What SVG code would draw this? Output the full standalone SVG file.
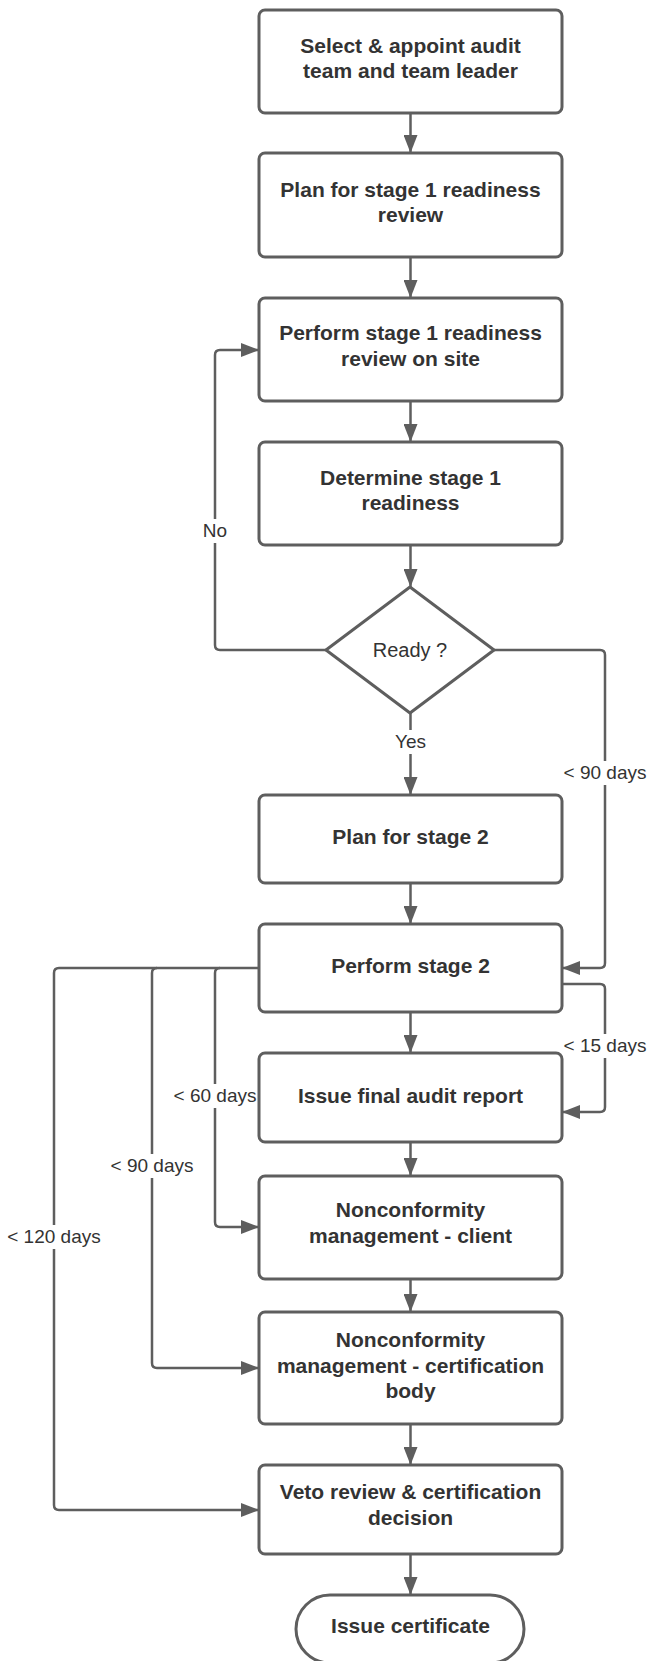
<svg xmlns="http://www.w3.org/2000/svg" width="649" height="1661" viewBox="0 0 649 1661">
<style>
.box{fill:#ffffff;stroke:#5e5e5e;stroke-width:3}
.t{font-family:"Liberation Sans",Arial,sans-serif;font-weight:bold;font-size:21px;fill:#333333;text-anchor:middle}
.lbl{font-family:"Liberation Sans",Arial,sans-serif;font-size:19px;fill:#333333;text-anchor:middle}
.c{fill:none;stroke:#5e5e5e;stroke-width:2.5}
.bg{fill:#ffffff}
</style>
<defs>
<marker id="arr" markerUnits="userSpaceOnUse" markerWidth="18" markerHeight="14" viewBox="0 0 18 14" refX="18" refY="7" orient="auto">
<path d="M0,0 L18,7 L0,14 Z" fill="#5e5e5e"/>
</marker>
</defs>
<rect width="649" height="1661" fill="#ffffff"/>
<g id="connectors">
<path class="c" d="M410.5,113 V153" marker-end="url(#arr)"/>
<path class="c" d="M410.5,257 V298" marker-end="url(#arr)"/>
<path class="c" d="M410.5,401 V442" marker-end="url(#arr)"/>
<path class="c" d="M410.5,545 V587" marker-end="url(#arr)"/>
<path class="c" d="M410.5,713 V795" marker-end="url(#arr)"/>
<path class="c" d="M410.5,883 V924" marker-end="url(#arr)"/>
<path class="c" d="M410.5,1012 V1053" marker-end="url(#arr)"/>
<path class="c" d="M410.5,1142 V1176" marker-end="url(#arr)"/>
<path class="c" d="M410.5,1279 V1312" marker-end="url(#arr)"/>
<path class="c" d="M410.5,1424 V1465" marker-end="url(#arr)"/>
<path class="c" d="M410.5,1554 V1595" marker-end="url(#arr)"/>
<path class="c" d="M326,650 H220 Q215,650 215,645 V355 Q215,350 220,350 H259" marker-end="url(#arr)"/>
<path class="c" d="M494,650 H600 Q605,650 605,655 V963 Q605,968 600,968 H562" marker-end="url(#arr)"/>
<path class="c" d="M562,984 H600 Q605,984 605,989 V1107 Q605,1112 600,1112 H562" marker-end="url(#arr)"/>
<path class="c" d="M259,968 H59 Q54,968 54,973 V1505 Q54,1510 59,1510 H259" marker-end="url(#arr)"/>
<path class="c" d="M220,968 Q215,968 215,973 V1222 Q215,1227 220,1227 H259" marker-end="url(#arr)"/>
<path class="c" d="M157,968 Q152,968 152,973 V1363 Q152,1368 157,1368 H259" marker-end="url(#arr)"/>
<rect class="bg" x="200" y="519" width="30" height="24"/>
<text class="lbl" x="215" y="537">No</text>
<rect class="bg" x="393" y="730" width="35" height="24"/>
<text class="lbl" x="410.5" y="748">Yes</text>
<rect class="bg" x="562" y="761" width="86" height="24"/>
<text class="lbl" x="605" y="779">&lt; 90 days</text>
<rect class="bg" x="562" y="1034" width="86" height="24"/>
<text class="lbl" x="605" y="1052">&lt; 15 days</text>
<rect class="bg" x="172" y="1084" width="86" height="24"/>
<text class="lbl" x="215" y="1102">&lt; 60 days</text>
<rect class="bg" x="109" y="1154" width="86" height="24"/>
<text class="lbl" x="152" y="1172">&lt; 90 days</text>
<rect class="bg" x="6" y="1225" width="96" height="24"/>
<text class="lbl" x="54" y="1243">&lt; 120 days</text>
</g>
<g id="n1"><rect class="box" x="259" y="10" width="303" height="103" rx="6"/>
<text class="t" x="410.5" y="53">Select &amp; appoint audit</text><text class="t" x="410.5" y="78">team and team leader</text></g>
<g id="n2"><rect class="box" x="259" y="153" width="303" height="104" rx="6"/>
<text class="t" x="410.5" y="197">Plan for stage 1 readiness</text><text class="t" x="410.5" y="222">review</text></g>
<g id="n3"><rect class="box" x="259" y="298" width="303" height="103" rx="6"/>
<text class="t" x="410.5" y="340">Perform stage 1 readiness</text><text class="t" x="410.5" y="366">review on site</text></g>
<g id="n4"><rect class="box" x="259" y="442" width="303" height="103" rx="6"/>
<text class="t" x="410.5" y="485">Determine stage 1</text><text class="t" x="410.5" y="510">readiness</text></g>
<g id="d1"><path class="box" d="M410,587 L494,650 L410,713 L326,650 Z" stroke-linejoin="round"/>
<text class="lbl" x="410" y="657" style="font-size:20px">Ready ?</text></g>
<g id="n5"><rect class="box" x="259" y="795" width="303" height="88" rx="6"/>
<text class="t" x="410.5" y="844">Plan for stage 2</text></g>
<g id="n6"><rect class="box" x="259" y="924" width="303" height="88" rx="6"/>
<text class="t" x="410.5" y="973">Perform stage 2</text></g>
<g id="n7"><rect class="box" x="259" y="1053" width="303" height="89" rx="6"/>
<text class="t" x="410.5" y="1103">Issue final audit report</text></g>
<g id="n8"><rect class="box" x="259" y="1176" width="303" height="103" rx="6"/>
<text class="t" x="410.5" y="1217">Nonconformity</text><text class="t" x="410.5" y="1243">management - client</text></g>
<g id="n9"><rect class="box" x="259" y="1312" width="303" height="112" rx="6"/>
<text class="t" x="410.5" y="1347">Nonconformity</text><text class="t" x="410.5" y="1373">management - certification</text><text class="t" x="410.5" y="1398">body</text></g>
<g id="n10"><rect class="box" x="259" y="1465" width="303" height="89" rx="6"/>
<text class="t" x="410.5" y="1499">Veto review &amp; certification</text><text class="t" x="410.5" y="1525">decision</text></g>
<g id="n11"><rect class="box" x="296" y="1595" width="228" height="68" rx="34"/>
<text class="t" x="410.5" y="1633">Issue certificate</text></g>
</svg>
